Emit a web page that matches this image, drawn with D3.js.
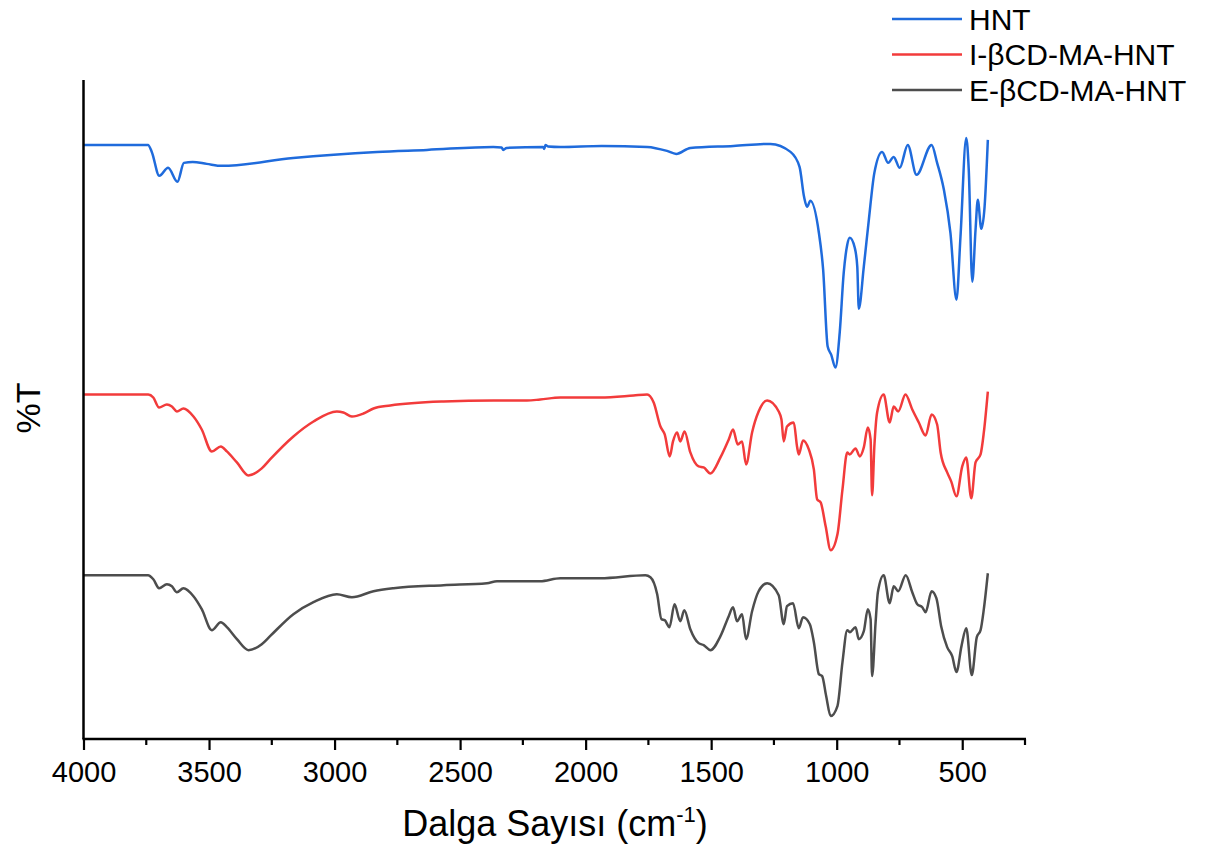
<!DOCTYPE html>
<meta charset="utf-8"/>
<title>FTIR</title>
<script src="https://d3js.org/d3.v7.min.js"></script>
<style>
    body { margin: 0; background: #fff; }
    text { font-family: 'Liberation Sans', Arial, sans-serif; fill: #000; }
</style>
<svg width=1222 height=849></svg>
<script>
  // wavenumbers (cm-1) and %T values (arbitrary offset units)
  const names = ['HNT', 'I-βCD-MA-HNT', 'E-βCD-MA-HNT'];
  const colors = ['#1f6bdc', '#f23b3b', '#4d4d4d'];
  const xTicks = [4000, 3500, 3000, 2500, 2000, 1500, 1000, 500];

  const hntW = [4000, 3743, 3728, 3698, 3663, 3626, 3600, 3565, 3509, 3448, 3165, 2831, 2632, 2368, 2335, 2328, 2315, 2169, 2165, 2160, 2150, 2101,
    1936, 1755, 1676, 1639, 1583, 1411, 1264, 1184, 1148, 1130, 1118, 1105, 1071, 1054, 1036, 1022, 1005, 988, 972, 958, 948, 928, 918, 912, 892, 872,
    850, 819, 795, 773, 749, 717, 682, 622, 600, 573, 547, 523, 507, 484, 474, 460, 447, 438, 424, 411, 398];
  const hntT = [59.5, 59.5, 58.8, 56.4, 57.2, 55.8, 57.7, 57.8, 57.6, 57.4, 58.2, 58.8, 59.0, 59.3, 59.25, 59.0, 59.2, 59.3, 59.1, 59.5, 59.35, 59.3,
    59.4, 59.3, 58.9, 58.6, 59.2, 59.4, 59.6, 58.8, 57.3, 54.3, 53.3, 53.9, 50.7, 47.0, 39.3, 38.5, 37.2, 40.7, 46.7, 49.5, 50.2, 49.2, 47.3, 43.1, 47.3, 52.0,
    56.7, 58.8, 57.7, 58.3, 57.2, 59.5, 56.5, 59.5, 57.7, 55.0, 50.7, 44.0, 50.3, 60.2, 57.0, 45.8, 51.0, 54.0, 51.1, 53.3, 60.0];

  const iW = [4000, 3742, 3722, 3699, 3668, 3648, 3628, 3602, 3562, 3529, 3489, 3453, 3429, 3389, 3343, 3290, 3257, 3164, 3084, 2991, 2965, 2931, 2885,
    2845, 2778, 2566, 2367, 2234, 2181, 2101, 1941, 1809, 1755, 1729, 1702, 1685, 1665, 1652, 1636, 1623, 1606, 1583, 1550, 1530, 1503, 1463, 1430,
    1413, 1394, 1377, 1361, 1337, 1311, 1277, 1231, 1220, 1211, 1198, 1171, 1158, 1151, 1134, 1111, 1091, 1078, 1064, 1044, 1024, 997, 977, 958, 948,
    925, 908, 892, 876, 865, 859, 850, 839, 813, 789, 773, 755, 726, 699, 673, 646, 622, 600, 586, 560, 544, 523, 500, 484, 464, 447, 427, 414, 398];
  const iT = [34.5, 34.5, 34.2, 33.2, 33.5, 33.3, 32.8, 33.1, 32.3, 31.0, 28.8, 29.3, 28.8, 27.7, 26.4, 27.1, 28.0, 30.3, 31.8, 32.8, 32.7, 32.3, 32.6,
    33.1, 33.4, 33.8, 33.9, 33.9, 34.0, 34.2, 34.2, 34.4, 34.5, 33.7, 31.3, 30.5, 28.3, 29.8, 30.7, 29.8, 30.8, 28.7, 27.3, 27.2, 26.6, 28.2, 30.0,
    31.0, 29.5, 29.8, 27.5, 30.7, 32.8, 33.9, 32.8, 32.0, 29.8, 31.3, 31.7, 29.3, 28.5, 29.9, 29.0, 27.0, 24.0, 23.7, 21.3, 18.9, 20.5, 25.0, 28.7, 28.5,
    29.1, 28.3, 29.2, 31.2, 30.0, 24.4, 29.3, 32.7, 34.5, 31.7, 33.3, 32.8, 34.5, 33.0, 31.7, 30.4, 32.5, 31.5, 28.7, 26.7, 25.8, 24.3, 27.3, 28.2, 24.1, 27.7, 28.5, 30.7, 34.8];

  const eW = [4000, 3743, 3722, 3699, 3668, 3648, 3628, 3602, 3562, 3529, 3489, 3453, 3429, 3389, 3343, 3290, 3257, 3164, 3084, 2991, 2931, 2845, 2765,
    2566, 2393, 2353, 2181, 2101, 1941, 1762, 1742, 1715, 1698, 1685, 1666, 1646, 1623, 1607, 1583, 1550, 1530, 1503, 1463, 1430, 1413, 1397, 1377,
    1361, 1337, 1311, 1277, 1231, 1211, 1198, 1174, 1151, 1134, 1107, 1091, 1071, 1058, 1042, 1024, 997, 977, 958, 948, 925, 912, 892, 876, 865, 859,
    845, 836, 813, 789, 773, 755, 725, 699, 679, 659, 646, 622, 603, 584, 560, 540, 523, 503, 484, 462, 442, 427, 414, 398];
  const eT = [16.4, 16.4, 16.0, 15.1, 15.5, 15.3, 14.7, 15.1, 14.3, 13.0, 10.9, 11.7, 11.2, 10.0, 8.9, 9.5, 10.3, 12.5, 13.7, 14.5, 14.2, 14.8, 15.1,
    15.4, 15.6, 15.8, 15.8, 16.1, 16.1, 16.4, 16.2, 14.5, 12.0, 11.9, 11.2, 13.5, 11.8, 12.9, 11.0, 9.6, 9.4, 8.9, 10.3, 12.3, 13.2, 11.8, 12.5,
    10.0, 12.8, 14.8, 15.6, 14.4, 11.5, 13.3, 13.6, 11.1, 12.2, 11.5, 9.7, 6.5, 6.3, 4.3, 2.3, 3.3, 7.7, 10.9, 10.7, 11.2, 10.0, 10.8, 13.0, 12.0, 6.3,
    11.7, 14.7, 16.4, 13.6, 15.3, 14.8, 16.4, 14.7, 13.5, 13.2, 12.7, 14.8, 14.1, 11.3, 9.2, 8.3, 6.7, 9.3, 11.1, 6.4, 10.2, 10.9, 13.0, 16.6];

  const series = [
    {name: names[0], color: colors[0], data: d3.zip(hntW, hntT)},
    {name: names[1], color: colors[1], data: d3.zip(iW, iT)},
    {name: names[2], color: colors[2], data: d3.zip(eW, eT)}
  ];

  const svg = d3.select('svg');
  const m = {left: 83.5, right: 1025, top: 80, bottom: 739};

  const x = d3.scaleLinear().domain([4000, 250]).range([m.left, m.right]);
  const y = d3.scaleLinear().domain([0, 66]).range([m.bottom, m.top]);

  const line = d3.line()
    .x(function (d) { return x(d[0]); })
    .y(function (d) { return y(d[1]); })
    .curve(d3.curveMonotoneX);

  svg.append('g').selectAll('path')
    .data(series).enter()
    .append('path')
    .attr('d', function (d) { return line(d.data); })
    .style('fill', 'none')
    .style('stroke', function (d) { return d.color; })
    .style('stroke-width', 2.5)
    .style('stroke-linejoin', 'round');

  // x axis: major ticks every 500, minor every 250
  const xAxis = svg.append('g')
    .attr('transform', 'translate(0,' + m.bottom + ')')
    .call(d3.axisBottom(x).tickValues(xTicks).tickSize(11).tickPadding(11).tickFormat(d3.format('d')));
  xAxis.select('.domain').remove();
  xAxis.selectAll('.tick line').style('stroke', '#000').style('stroke-width', 2.2);
  xAxis.selectAll('.tick text').style('font-size', '29px');

  svg.append('g')
    .attr('transform', 'translate(0,' + m.bottom + ')')
    .selectAll('line')
    .data(d3.range(3750, 249, -500)).enter()
    .append('line')
    .attr('x1', function (d) { return x(d); })
    .attr('x2', function (d) { return x(d); })
    .attr('y1', 0).attr('y2', 6)
    .style('stroke', '#000').style('stroke-width', 2.2);

  svg.append('line')
    .attr('x1', m.left - 1).attr('x2', m.right + 1)
    .attr('y1', m.bottom).attr('y2', m.bottom)
    .style('stroke', '#000').style('stroke-width', 2.5);
  svg.append('line')
    .attr('x1', m.left).attr('x2', m.left)
    .attr('y1', m.top).attr('y2', m.bottom)
    .style('stroke', '#000').style('stroke-width', 2.5);

  // axis titles
  const xt = svg.append('text')
    .attr('x', 555).attr('y', 836)
    .style('font-size', '36px')
    .style('text-anchor', 'middle');
  xt.append('tspan').text('Dalga Sayısı (cm');
  xt.append('tspan').attr('dy', -14).style('font-size', '22px').text('-1');
  xt.append('tspan').attr('dy', 14).text(')');

  svg.append('text')
    .attr('transform', 'translate(39.5,408)rotate(-90)')
    .style('font-size', '34px')
    .style('text-anchor', 'middle')
    .text('%T');

  // legend
  const leg = svg.append('g').selectAll('g')
    .data(series).enter()
    .append('g')
    .attr('transform', function (d, i) { return 'translate(892,' + (19 + i * 35.5) + ')'; });
  leg.append('line')
    .attr('x1', 0).attr('x2', 70)
    .style('stroke', function (d) { return d.color; })
    .style('stroke-width', 2.5);
  leg.append('text')
    .attr('x', 77).attr('y', 10.5)
    .style('font-size', '30px')
    .text(function (d) { return d.name; });
</script>
